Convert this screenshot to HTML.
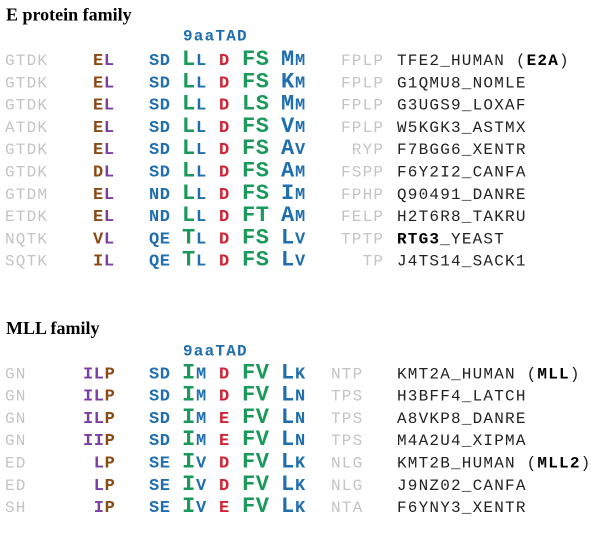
<!DOCTYPE html>
<html><head><meta charset="utf-8">
<style>
html,body{margin:0;padding:0;background:#fff;}
svg{display:block;}
.t{font-family:"Liberation Serif",serif;font-weight:bold;font-size:18px;fill:#000;}
.g{font-family:"Liberation Mono",monospace;font-size:16px;letter-spacing:1.2px;fill:#c4c4c4;}
.n{font-family:"Liberation Mono",monospace;font-size:16px;letter-spacing:1.2px;fill:#222;}
.s{font-family:"Liberation Mono",monospace;font-weight:bold;font-size:17px;letter-spacing:0.6px;}
.b{font-family:"Liberation Mono",monospace;font-weight:bold;font-size:22px;letter-spacing:0.6px;}
.h{font-family:"Liberation Mono",monospace;font-weight:bold;font-size:16px;letter-spacing:1.2px;fill:#1f6fb0;}
.bl{fill:#1f6fb0;} .gr{fill:#1a9a5a;} .rd{fill:#d42030;} .br{fill:#8a4a14;} .pu{fill:#7a3fa0;}
.bold{font-weight:bold;fill:#000;}
</style></head><body>
<svg width="600" height="533" viewBox="0 0 600 533" xmlns="http://www.w3.org/2000/svg">
<text class="t" x="6" y="20.5">E protein family</text>
<text class="h" x="183" y="40.7">9aaTAD</text>

<!-- E protein rows -->
<g>
<text class="g" x="5" y="65">GTDK</text>
<text class="s" x="93" y="65"><tspan class="br">E</tspan><tspan class="pu">L</tspan></text>
<text class="s bl" x="149" y="65">SD</text>
<text class="b gr" x="182" y="65">L</text><text class="s bl" x="196" y="65">L</text>
<text class="s rd" x="219" y="65">D</text>
<text class="b gr" x="242" y="65">FS</text>
<text class="b bl" x="281" y="65">M</text><text class="s bl" x="295" y="65">M</text>
<text class="g" x="341" y="65">FPLP</text>
<text class="n" x="397" y="65">TFE2_HUMAN (<tspan class="bold">E2A</tspan>)</text>
</g>
<g>
<text class="g" x="5" y="87.3">GTDK</text>
<text class="s" x="93" y="87.3"><tspan class="br">E</tspan><tspan class="pu">L</tspan></text>
<text class="s bl" x="149" y="87.3">SD</text>
<text class="b gr" x="182" y="87.3">L</text><text class="s bl" x="196" y="87.3">L</text>
<text class="s rd" x="219" y="87.3">D</text>
<text class="b gr" x="242" y="87.3">FS</text>
<text class="b bl" x="281" y="87.3">K</text><text class="s bl" x="295" y="87.3">M</text>
<text class="g" x="341" y="87.3">FPLP</text>
<text class="n" x="397" y="87.3">G1QMU8_NOMLE</text>
</g>
<g>
<text class="g" x="5" y="109.6">GTDK</text>
<text class="s" x="93" y="109.6"><tspan class="br">E</tspan><tspan class="pu">L</tspan></text>
<text class="s bl" x="149" y="109.6">SD</text>
<text class="b gr" x="182" y="109.6">L</text><text class="s bl" x="196" y="109.6">L</text>
<text class="s rd" x="219" y="109.6">D</text>
<text class="b gr" x="242" y="109.6">LS</text>
<text class="b bl" x="281" y="109.6">M</text><text class="s bl" x="295" y="109.6">M</text>
<text class="g" x="341" y="109.6">FPLP</text>
<text class="n" x="397" y="109.6">G3UGS9_LOXAF</text>
</g>
<g>
<text class="g" x="5" y="131.9">ATDK</text>
<text class="s" x="93" y="131.9"><tspan class="br">E</tspan><tspan class="pu">L</tspan></text>
<text class="s bl" x="149" y="131.9">SD</text>
<text class="b gr" x="182" y="131.9">L</text><text class="s bl" x="196" y="131.9">L</text>
<text class="s rd" x="219" y="131.9">D</text>
<text class="b gr" x="242" y="131.9">FS</text>
<text class="b bl" x="281" y="131.9">V</text><text class="s bl" x="295" y="131.9">M</text>
<text class="g" x="341" y="131.9">FPLP</text>
<text class="n" x="397" y="131.9">W5KGK3_ASTMX</text>
</g>
<g>
<text class="g" x="5" y="154.2">GTDK</text>
<text class="s" x="93" y="154.2"><tspan class="br">E</tspan><tspan class="pu">L</tspan></text>
<text class="s bl" x="149" y="154.2">SD</text>
<text class="b gr" x="182" y="154.2">L</text><text class="s bl" x="196" y="154.2">L</text>
<text class="s rd" x="219" y="154.2">D</text>
<text class="b gr" x="242" y="154.2">FS</text>
<text class="b bl" x="281" y="154.2">A</text><text class="s bl" x="295" y="154.2">V</text>
<text class="g" x="351.8" y="154.2">RYP</text>
<text class="n" x="397" y="154.2">F7BGG6_XENTR</text>
</g>
<g>
<text class="g" x="5" y="176.5">GTDK</text>
<text class="s" x="93" y="176.5"><tspan class="br">D</tspan><tspan class="pu">L</tspan></text>
<text class="s bl" x="149" y="176.5">SD</text>
<text class="b gr" x="182" y="176.5">L</text><text class="s bl" x="196" y="176.5">L</text>
<text class="s rd" x="219" y="176.5">D</text>
<text class="b gr" x="242" y="176.5">FS</text>
<text class="b bl" x="281" y="176.5">A</text><text class="s bl" x="295" y="176.5">M</text>
<text class="g" x="341" y="176.5">FSPP</text>
<text class="n" x="397" y="176.5">F6Y2I2_CANFA</text>
</g>
<g>
<text class="g" x="5" y="198.8">GTDM</text>
<text class="s" x="93" y="198.8"><tspan class="br">E</tspan><tspan class="pu">L</tspan></text>
<text class="s bl" x="149" y="198.8">ND</text>
<text class="b gr" x="182" y="198.8">L</text><text class="s bl" x="196" y="198.8">L</text>
<text class="s rd" x="219" y="198.8">D</text>
<text class="b gr" x="242" y="198.8">FS</text>
<text class="b bl" x="281" y="198.8">I</text><text class="s bl" x="295" y="198.8">M</text>
<text class="g" x="341" y="198.8">FPHP</text>
<text class="n" x="397" y="198.8">Q90491_DANRE</text>
</g>
<g>
<text class="g" x="5" y="221.1">ETDK</text>
<text class="s" x="93" y="221.1"><tspan class="br">E</tspan><tspan class="pu">L</tspan></text>
<text class="s bl" x="149" y="221.1">ND</text>
<text class="b gr" x="182" y="221.1">L</text><text class="s bl" x="196" y="221.1">L</text>
<text class="s rd" x="219" y="221.1">D</text>
<text class="b gr" x="242" y="221.1">FT</text>
<text class="b bl" x="281" y="221.1">A</text><text class="s bl" x="295" y="221.1">M</text>
<text class="g" x="341" y="221.1">FELP</text>
<text class="n" x="397" y="221.1">H2T6R8_TAKRU</text>
</g>
<g>
<text class="g" x="5" y="243.4">NQTK</text>
<text class="s" x="93" y="243.4"><tspan class="br">V</tspan><tspan class="pu">L</tspan></text>
<text class="s bl" x="149" y="243.4">QE</text>
<text class="b gr" x="182" y="243.4">T</text><text class="s bl" x="196" y="243.4">L</text>
<text class="s rd" x="219" y="243.4">D</text>
<text class="b gr" x="242" y="243.4">FS</text>
<text class="b bl" x="281" y="243.4">L</text><text class="s bl" x="295" y="243.4">V</text>
<text class="g" x="341" y="243.4">TPTP</text>
<text class="n" x="397" y="243.4"><tspan class="bold">RTG3</tspan>_YEAST</text>
</g>
<g>
<text class="g" x="5" y="265.7">SQTK</text>
<text class="s" x="93" y="265.7"><tspan class="br">I</tspan><tspan class="pu">L</tspan></text>
<text class="s bl" x="149" y="265.7">QE</text>
<text class="b gr" x="182" y="265.7">T</text><text class="s bl" x="196" y="265.7">L</text>
<text class="s rd" x="219" y="265.7">D</text>
<text class="b gr" x="242" y="265.7">FS</text>
<text class="b bl" x="281" y="265.7">L</text><text class="s bl" x="295" y="265.7">V</text>
<text class="g" x="362.6" y="265.7">TP</text>
<text class="n" x="397" y="265.7">J4TS14_SACK1</text>
</g>

<text class="t" x="6" y="334">MLL family</text>
<text class="h" x="183" y="355.3">9aaTAD</text>

<!-- MLL rows -->
<g>
<text class="g" x="5" y="378.3">GN</text>
<text class="s" x="83" y="378.3"><tspan class="pu">IL</tspan><tspan class="br">P</tspan></text>
<text class="s bl" x="149" y="378.3">SD</text>
<text class="b gr" x="182" y="378.3">I</text><text class="s bl" x="196" y="378.3">M</text>
<text class="s rd" x="219" y="378.3">D</text>
<text class="b gr" x="242" y="378.3">FV</text>
<text class="b bl" x="281" y="378.3">L</text><text class="s bl" x="295" y="378.3">K</text>
<text class="g" x="331" y="378.3">NTP</text>
<text class="n" x="397" y="378.3">KMT2A_HUMAN (<tspan class="bold">MLL</tspan>)</text>
</g>
<g>
<text class="g" x="5" y="400.6">GN</text>
<text class="s" x="83" y="400.6"><tspan class="pu">IL</tspan><tspan class="br">P</tspan></text>
<text class="s bl" x="149" y="400.6">SD</text>
<text class="b gr" x="182" y="400.6">I</text><text class="s bl" x="196" y="400.6">M</text>
<text class="s rd" x="219" y="400.6">D</text>
<text class="b gr" x="242" y="400.6">FV</text>
<text class="b bl" x="281" y="400.6">L</text><text class="s bl" x="295" y="400.6">N</text>
<text class="g" x="331" y="400.6">TPS</text>
<text class="n" x="397" y="400.6">H3BFF4_LATCH</text>
</g>
<g>
<text class="g" x="5" y="422.9">GN</text>
<text class="s" x="83" y="422.9"><tspan class="pu">IL</tspan><tspan class="br">P</tspan></text>
<text class="s bl" x="149" y="422.9">SD</text>
<text class="b gr" x="182" y="422.9">I</text><text class="s bl" x="196" y="422.9">M</text>
<text class="s rd" x="219" y="422.9">E</text>
<text class="b gr" x="242" y="422.9">FV</text>
<text class="b bl" x="281" y="422.9">L</text><text class="s bl" x="295" y="422.9">N</text>
<text class="g" x="331" y="422.9">TPS</text>
<text class="n" x="397" y="422.9">A8VKP8_DANRE</text>
</g>
<g>
<text class="g" x="5" y="445.2">GN</text>
<text class="s" x="83" y="445.2"><tspan class="pu">II</tspan><tspan class="br">P</tspan></text>
<text class="s bl" x="149" y="445.2">SD</text>
<text class="b gr" x="182" y="445.2">I</text><text class="s bl" x="196" y="445.2">M</text>
<text class="s rd" x="219" y="445.2">E</text>
<text class="b gr" x="242" y="445.2">FV</text>
<text class="b bl" x="281" y="445.2">L</text><text class="s bl" x="295" y="445.2">N</text>
<text class="g" x="331" y="445.2">TPS</text>
<text class="n" x="397" y="445.2">M4A2U4_XIPMA</text>
</g>
<g>
<text class="g" x="5" y="467.5">ED</text>
<text class="s" x="93.8" y="467.5"><tspan class="pu">L</tspan><tspan class="br">P</tspan></text>
<text class="s bl" x="149" y="467.5">SE</text>
<text class="b gr" x="182" y="467.5">I</text><text class="s bl" x="196" y="467.5">V</text>
<text class="s rd" x="219" y="467.5">D</text>
<text class="b gr" x="242" y="467.5">FV</text>
<text class="b bl" x="281" y="467.5">L</text><text class="s bl" x="295" y="467.5">K</text>
<text class="g" x="331" y="467.5">NLG</text>
<text class="n" x="397" y="467.5">KMT2B_HUMAN (<tspan class="bold">MLL2</tspan>)</text>
</g>
<g>
<text class="g" x="5" y="489.8">ED</text>
<text class="s" x="93.8" y="489.8"><tspan class="pu">L</tspan><tspan class="br">P</tspan></text>
<text class="s bl" x="149" y="489.8">SE</text>
<text class="b gr" x="182" y="489.8">I</text><text class="s bl" x="196" y="489.8">V</text>
<text class="s rd" x="219" y="489.8">D</text>
<text class="b gr" x="242" y="489.8">FV</text>
<text class="b bl" x="281" y="489.8">L</text><text class="s bl" x="295" y="489.8">K</text>
<text class="g" x="331" y="489.8">NLG</text>
<text class="n" x="397" y="489.8">J9NZ02_CANFA</text>
</g>
<g>
<text class="g" x="5" y="512.1">SH</text>
<text class="s" x="93.8" y="512.1"><tspan class="pu">I</tspan><tspan class="br">P</tspan></text>
<text class="s bl" x="149" y="512.1">SE</text>
<text class="b gr" x="182" y="512.1">I</text><text class="s bl" x="196" y="512.1">V</text>
<text class="s rd" x="219" y="512.1">E</text>
<text class="b gr" x="242" y="512.1">FV</text>
<text class="b bl" x="281" y="512.1">L</text><text class="s bl" x="295" y="512.1">K</text>
<text class="g" x="331" y="512.1">NTA</text>
<text class="n" x="397" y="512.1">F6YNY3_XENTR</text>
</g>
</svg>
</body></html>
